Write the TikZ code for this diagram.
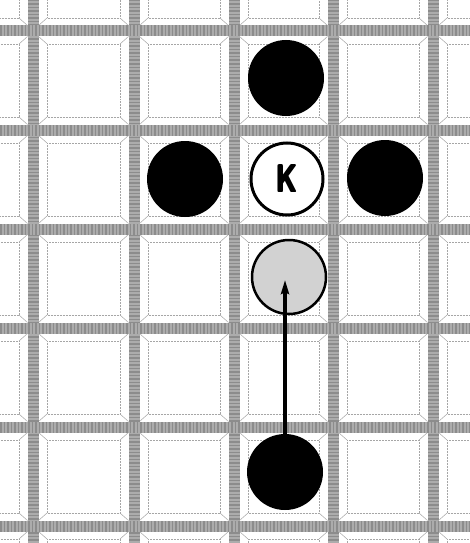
\documentclass[tikz,border=0pt]{standalone}
\usepackage{fontspec}
\usetikzlibrary{arrows.meta}
\newcommand{\kingletter}{\scalebox{0.68}[1]{\fontsize{40pt}{40pt}\selectfont\sffamily\bfseries\rlap{\kern-1.1pt K}\rlap{\kern1.1pt K}\rlap{\kern-0.5pt K}\rlap{\kern0.5pt K}K}}
\begin{document}
\begin{tikzpicture}[x=1pt,y=-1pt,
  band/.style={line width=11pt, color=gray!65},
  bandtex/.style={line width=11pt, color=gray!90, dash pattern=on 1.5pt off 2pt},
  bevel/.style={gray!70, line width=0.5pt, densely dotted},
  bevcorner/.style={gray!70, line width=0.5pt},
  stone/.style={circle, minimum size=76pt, inner sep=0pt},
  blackstone/.style={stone, fill=black},
  kingstone/.style={stone, draw=black, line width=3pt, fill=white, minimum size=72pt},
  greystone/.style={stone, draw=black, line width=2.5pt, fill=gray!35, minimum size=74pt},
  move/.style={-{Stealth[length=14pt,width=8pt,inset=2pt]}, line width=3.2pt, shorten >=3pt}]
\useasboundingbox (0,0) rectangle (470,543);
\fill[white] (0,0) rectangle (470,543);
\begin{scope}
\clip (0,0) rectangle (470,543);
\foreach \xa/\xb in {-67/33,33/134,134/234,234/333,333/433,433/533}
 \foreach \ya/\yb in {-68/31,31/130,130/229,229/328,328/427,427/526,526/625} {
   \draw[bevel] (\xa+14,\ya+13) rectangle (\xb-14,\yb-13);
   \draw[bevcorner] (\xa+5.5,\ya+5.5) -- (\xa+14,\ya+13);
   \draw[bevcorner] (\xb-5.5,\ya+5.5) -- (\xb-14,\ya+13);
   \draw[bevcorner] (\xa+5.5,\yb-5.5) -- (\xa+14,\yb-13);
   \draw[bevcorner] (\xb-5.5,\yb-5.5) -- (\xb-14,\yb-13);
 }
\foreach \x in {33,134,234,333,433} {
  \draw[band] (\x,0) -- (\x,543);
  \draw[bandtex] (\x,0) -- (\x,543);
}
\foreach \y in {31,130,229,328,427,526} {
  \draw[band] (0,\y) -- (470,\y);
  \draw[bandtex] (0,\y) -- (470,\y);
}
\end{scope}
\node[blackstone] (top) at (286,78) {};
\node[blackstone] (left) at (185,179) {};
\node[kingstone] (king) at (287,179) {\kingletter};
\node[blackstone] (right) at (385,178) {};
\node[greystone] (grey) at (289,277) {};
\node[blackstone] (bot) at (285,472) {};
\draw[move] (bot.center) -- (bot.center |- grey.center);
\end{tikzpicture}
\end{document}
